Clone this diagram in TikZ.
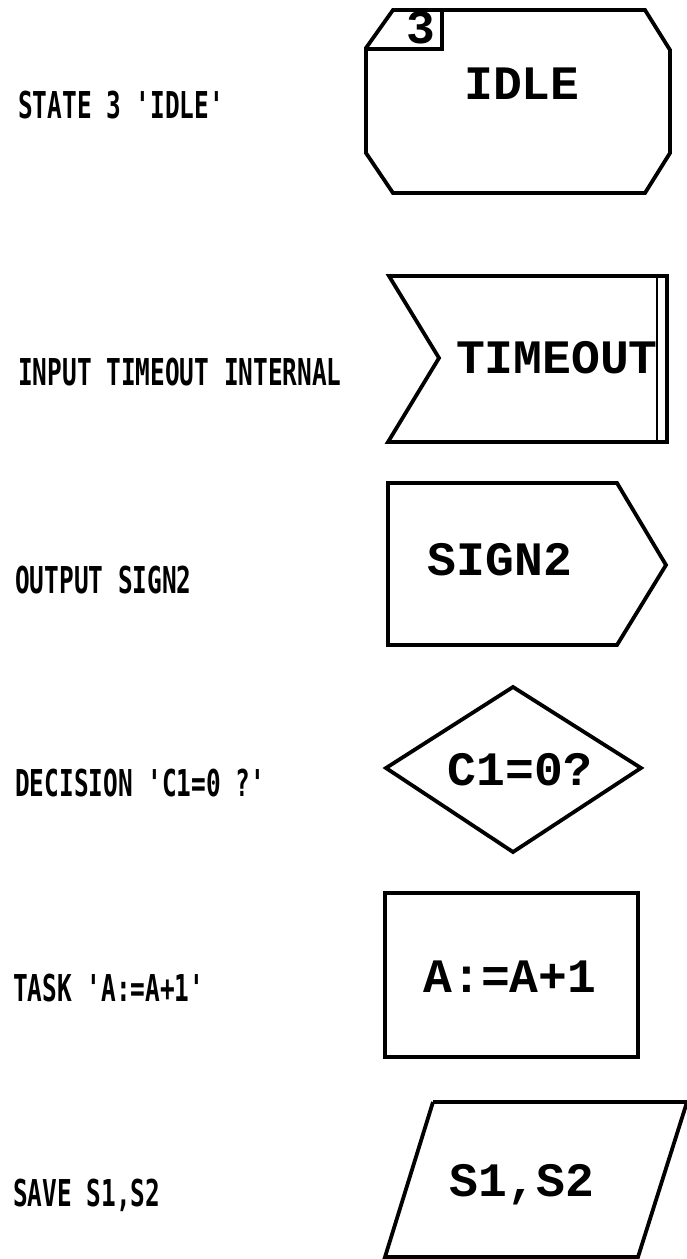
\documentclass[tikz,border=0pt]{standalone}
\usepackage{fontspec}
\newfontfamily\boxfont{Liberation Mono}
\newfontfamily\labfont{DejaVu Sans Mono}
\tikzset{
  symline/.style={line width=3.8pt, line join=miter},
  boxtext/.style={font=\boxfont\bfseries\fontsize{48}{48}\selectfont, inner sep=0pt},
  labtext/.style={anchor=west, inner sep=0pt, font=\labfont\bfseries\fontsize{37}{37}\selectfont}
}
\newcommand{\narrow}[1]{\scalebox{0.66}[1]{#1}}
\begin{document}
\begin{tikzpicture}[x=1pt,y=-1pt]
\fill[white] (0,0) rectangle (687,1259);
\useasboundingbox (0,0) rectangle (687,1259);

% STATE
\draw[symline] (393,10) -- (645,10) -- (670,50) -- (670,153) -- (645,193) -- (393,193) -- (366,153) -- (366,48) -- cycle;
\draw[symline] (366,49) -- (442,49) -- (442,10);
\node[boxtext] (statenum) at (421,28) {3};
\node[boxtext] (idle) at (522,84) {IDLE};
\node[labtext] (lstate) at (18,105) {\narrow{STATE 3 'IDLE'}};

% INPUT
\draw[symline] (389,276) -- (667,276) -- (667,442) -- (388,442) -- (439,358) -- cycle;
\draw[line width=2.5pt] (657,276) -- (657,442);
\node[boxtext] (timeout) at (557,358) {TIMEOUT};
\node[labtext] (linput) at (18,372) {\narrow{INPUT TIMEOUT INTERNAL}};

% OUTPUT
\draw[symline] (388,483) -- (617,483) -- (666,565) -- (617,645) -- (388,645) -- cycle;
\node[boxtext] (sign) at (500,560) {SIGN2};
\node[labtext] (loutput) at (15,580) {\narrow{OUTPUT SIGN2}};

% DECISION
\draw[symline] (513,687) -- (641,768) -- (513,852) -- (386,768) -- cycle;
\node[boxtext] (cond) at (520,770) {C1=0?};
\node[labtext] (ldecision) at (15,783) {\narrow{DECISION 'C1=0 ?'}};

% TASK
\draw[symline] (385,893) rectangle (638,1057);
\node[boxtext] (task) at (510,977) {A:=A+1};
\node[labtext] (ltask) at (13,988) {\narrow{TASK 'A:=A+1'}};

% SAVE
\draw[symline] (433,1102) -- (687,1102) (687,1102) -- (638,1257) -- (385,1257) -- (433,1102);
\node[boxtext] (save) at (522,1185) {S1,S2};
\node[labtext] (lsave) at (13,1195) {\narrow{SAVE S1,S2}};
\end{tikzpicture}
\end{document}
